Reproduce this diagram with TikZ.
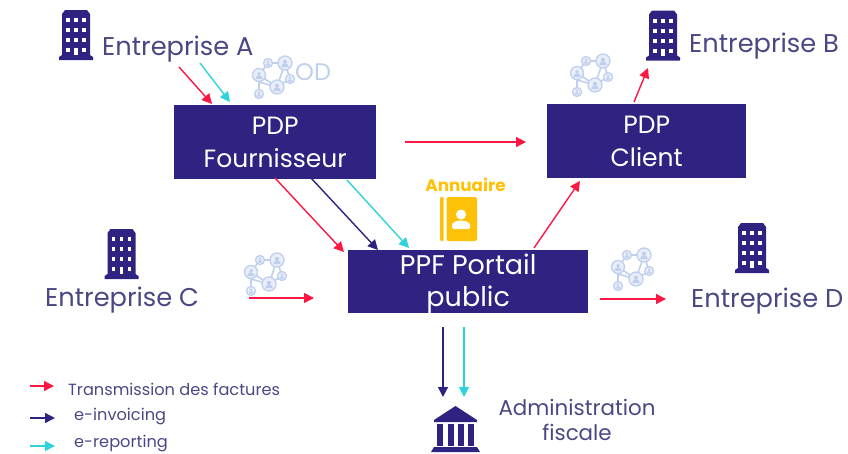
\documentclass[tikz,border=0pt]{standalone}
\usepackage{fontspec}
\setmainfont{Poppins}
\usetikzlibrary{arrows.meta}
\definecolor{navy}{HTML}{2E2381}
\definecolor{navytxt}{HTML}{4A4884}
\definecolor{redar}{HTML}{FF1744}
\definecolor{cyanar}{HTML}{2FD3DC}
\definecolor{amber}{HTML}{FFC107}
\definecolor{pale}{HTML}{BFD0EE}
\tikzset{
  x=1pt,y=-1pt,
  box/.style={fill=navy,text=white,font=\fontsize{25}{33}\selectfont,align=center,inner sep=0pt,anchor=north west},
  lab/.style={text=navytxt,font=\fontsize{25.7}{30}\selectfont,inner sep=0pt},
  leg/.style={text=navytxt,font=\fontsize{16.2}{18}\selectfont,inner sep=0pt,anchor=west},
  arr/.style={-{Triangle[length=10pt,width=10pt]},line width=1.4pt},
  rd/.style={arr,draw=redar},
  nv/.style={arr,draw=navy},
  cy/.style={arr,draw=cyanar},
  building/.pic={
    \fill[navy] (-17,25)--(-17,22)--(-14,20)--(-14,-21)--(-11,-25)--(11,-25)--(14,-21)--(14,20)--(17,22)--(17,25)--cycle;
    \foreach \yy in {-15,-5,5}{\foreach \xx in {-8,0,8}{\fill[white] (\xx-1.8,\yy-2) rectangle (\xx+1.8,\yy+2);}}
    \foreach \xx in {-8,8}{\fill[white] (\xx-1.8,13) rectangle (\xx+1.8,17);}
    \fill[white] (-1.8,13) rectangle (1.8,20);
  },
  network/.pic={
    \draw[pale,line width=1.6pt] (-14,-2)--(-5,-14)--(12,-14)--(17,2)--(4,10)--(-14,-2) (-14,-2)--(-14,17) (4,10)--(12,-14) (-14,5)--(4,10);
    \foreach \px/\py/\pr in {-14/-2/6.5,-5/-14/4.5,12/-14/7,17/2/4.5,4/10/7,-14/17/4.5}{
      \fill[pale!35] (\px,\py) circle (\pr);
      \draw[pale,line width=1.3pt] (\px,\py) circle (\pr);
      \fill[pale] (\px,\py-1.2) circle (\pr*0.3);
      \fill[pale] (\px-\pr*0.55,\py+\pr*0.6) arc (180:360:\pr*0.55) -- cycle;
    }
  },
}
\begin{document}
\begin{tikzpicture}
\useasboundingbox (0,0) rectangle (848,453);
% boxes
\node[box,minimum width=202pt,minimum height=74pt] (pdpf) at (174,105) {PDP\\Fournisseur};
\node[box,minimum width=199pt,minimum height=74pt] (pdpc) at (547,104) {PDP\\Client};
\node[box,minimum width=240pt,minimum height=63pt,font=\fontsize{27}{32}\selectfont] (ppf) at (348,250) {\rule{0pt}{24pt}PPF Portail\\public};
% labels
\node[lab,anchor=west] (ea) at (102,49) {Entreprise A};
\node[lab,anchor=west] (eb) at (689,46) {Entreprise B};
\node[lab,anchor=west] (ec) at (45,300) {Entreprise C};
\node[lab,anchor=west] (ed) at (691,301) {Entreprise D};
\node[text=navytxt,font=\fontsize{21.4}{25.5}\selectfont,align=center,inner sep=0pt] (adm) at (577,420) {Administration\\fiscale};
\node[text=pale,font=\fontsize{24}{26}\selectfont,inner sep=0pt,anchor=west] (od) at (295,72) {OD};
\node[text=amber,font=\bfseries\fontsize{16.8}{20}\selectfont,inner sep=0pt] (ann) at (465.5,185) {Annuaire};
% icons
\pic at (76,35) {building};
\pic at (663,35.5) {building};
\pic at (121.5,254) {building};
\pic at (752,248) {building};
\pic at (273,77) {network};
\pic at (591,75) {network};
\pic at (265,274) {network};
\pic at (632,269) {network};
% annuaire icon
\fill[amber,rounded corners=1pt] (440,197) rectangle (443.5,241);
\fill[amber,rounded corners=2pt] (446.5,197) rectangle (477,241);
\fill[white] (461,214.5) circle (5);
\fill[white,rounded corners=1.5pt] (452,229) -- (452,226) arc (180:360:9 and 5.5) -- (470,229) -- cycle;
% government icon
\fill[navy] (455.5,406) -- (477,420) -- (477,422) -- (434,422) -- (434,420) -- cycle;
\foreach \xx in {437,448,458,468}{\fill[navy] (\xx,424) rectangle (\xx+6,446);}
\fill[navy] (431,452) -- (434,447) -- (477,447) -- (480,452) -- cycle;
% free ends
\coordinate (a1) at (179,67); \coordinate (a1e) at (212,104);
\coordinate (a2) at (200,63); \coordinate (a2e) at (230,102);
\coordinate (f1) at (405,142); \coordinate (f1e) at (526,142);
\coordinate (b1) at (634,102); \coordinate (b1e) at (648,68);
\coordinate (p1) at (275,178); \coordinate (p1e) at (344,252);
\coordinate (p2) at (311,178); \coordinate (p2e) at (378,250);
\coordinate (p3) at (347,180); \coordinate (p3e) at (409,248);
\coordinate (c1) at (534,248); \coordinate (c1e) at (580,181);
\coordinate (ec1) at (249,298); \coordinate (ec1e) at (314,298);
\coordinate (d1) at (600,299); \coordinate (d1e) at (666,299);
\coordinate (g1) at (443,327); \coordinate (g1e) at (443,397);
\coordinate (g2) at (464,327); \coordinate (g2e) at (464,397);
\draw[rd] (a1)--(a1e);
\draw[cy] (a2)--(a2e);
\draw[rd] (f1)--(f1e);
\draw[rd] (b1)--(b1e);
\draw[rd] (p1)--(p1e);
\draw[nv] (p2)--(p2e);
\draw[cy] (p3)--(p3e);
\draw[rd] (c1)--(c1e);
\draw[rd] (ec1)--(ec1e);
\draw[rd] (d1)--(d1e);
\draw[nv] (g1)--(g1e);
\draw[cy] (g2)--(g2e);
% legend
\coordinate (l1) at (30,386); \coordinate (l1e) at (54,386);
\coordinate (l2) at (30,418); \coordinate (l2e) at (55,418);
\coordinate (l3) at (30,446); \coordinate (l3e) at (55,446);
\draw[rd] (l1)--(l1e);
\draw[nv] (l2)--(l2e);
\draw[cy] (l3)--(l3e);
\node[leg] (t1) at (68,389) {Transmission des factures};
\node[leg] (t2) at (74,417) {e-invoicing};
\node[leg] (t3) at (74,444) {e-reporting};
\end{tikzpicture}
\end{document}
